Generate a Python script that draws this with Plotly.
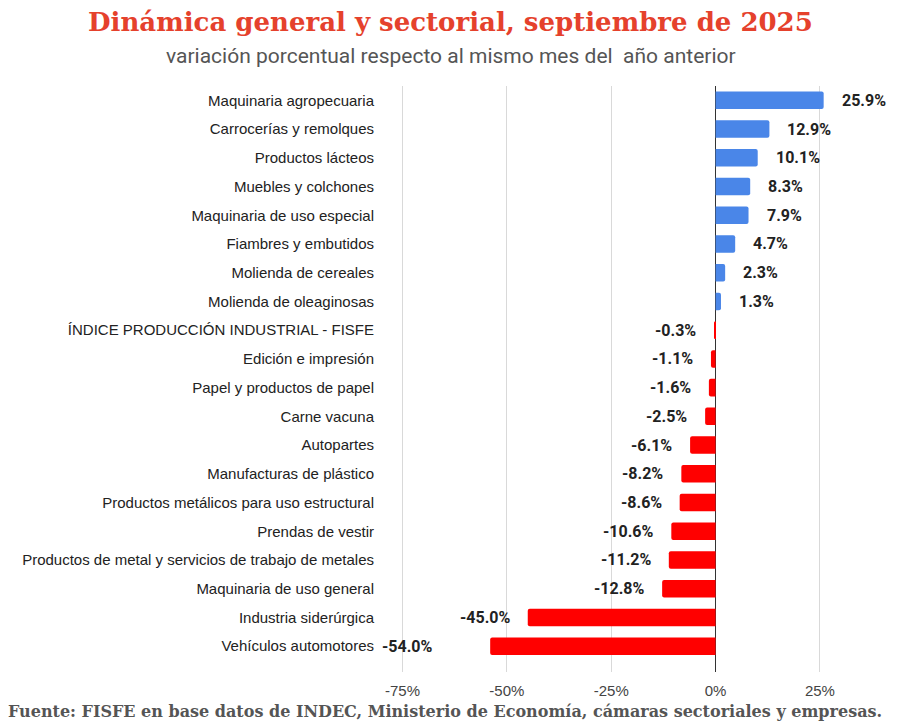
import plotly.graph_objects as go

categories = [
    "Maquinaria agropecuaria",
    "Carrocerías y remolques",
    "Productos lácteos",
    "Muebles y colchones",
    "Maquinaria de uso especial",
    "Fiambres y embutidos",
    "Molienda de cereales",
    "Molienda de oleaginosas",
    "ÍNDICE PRODUCCIÓN INDUSTRIAL - FISFE",
    "Edición e impresión",
    "Papel y productos de papel",
    "Carne vacuna",
    "Autopartes",
    "Manufacturas de plástico",
    "Productos metálicos para uso estructural",
    "Prendas de vestir",
    "Productos de metal y servicios de trabajo de metales",
    "Maquinaria de uso general",
    "Industria siderúrgica",
    "Vehículos automotores",
]
values = [25.9, 12.9, 10.1, 8.3, 7.9, 4.7, 2.3, 1.3, -0.3, -1.1, -1.6, -2.5,
          -6.1, -8.2, -8.6, -10.6, -11.2, -12.8, -45.0, -54.0]
tick_vals = [-75, -50, -25, 0, 25]
tick_text = ["-75%", "-50%", "-25%", "0%", "25%"]

title_text = "Dinámica general y sectorial, septiembre de 2025"
subtitle_text = "variación porcentual respecto al mismo mes del  año anterior"
source_text = "Fuente: FISFE en base datos de INDEC, Ministerio de Economía, cámaras sectoriales y empresas."

BLUE = "#4a86e8"
RED = "#ff0000"

# page offset of the plot div (default body margin)
OFF = 8
W, H = 900 - OFF, 728 - OFF
# targets in screen pixels
S_LEFT, S_RIGHT, S_TOP, S_BOTTOM = 380, 880, 86, 672.5
M_L = S_LEFT - OFF
M_R = W - (S_RIGHT - OFF)
M_T = S_TOP - OFF
M_B = H - (S_BOTTOM - OFF)
plot_w = W - M_L - M_R
plot_h = H - M_T - M_B

def py(sy):
    return (H - M_B - (sy - OFF)) / plot_h

def px(sx):
    return ((sx - OFF) - M_L) / plot_w

colors = [BLUE if v >= 0 else RED for v in values]

fig = go.Figure(go.Bar(
    x=values, y=categories, orientation="h",
    marker=dict(color=colors, line=dict(width=0), cornerradius=2),
    hoverinfo="skip",
))

label_font = dict(family="Roboto", size=16, color="#222222", weight="bold")
annotations = []
vmin = min(values)
for c, v in zip(categories, values):
    txt = f"{v:.1f}%"
    if v == vmin:
        annotations.append(dict(x=0, xref="paper", y=c, yref="y", text=txt,
                                showarrow=False, xanchor="left", yanchor="middle",
                                font=label_font))
    else:
        annotations.append(dict(x=v, y=c, xref="x", yref="y", text=txt, showarrow=False,
                                xanchor="left" if v >= 0 else "right",
                                xshift=16 if v >= 0 else -16, yanchor="middle",
                                font=label_font))

annotations.append(dict(x=px(450), xref="paper", xanchor="center",
                        y=py(22), yref="paper", yanchor="middle",
                        text=f"<b>{title_text}</b>", showarrow=False,
                        font=dict(family="DejaVu Serif", size=26, color="#e5412c")))
annotations.append(dict(x=px(451), xref="paper", xanchor="center",
                        y=py(56), yref="paper", yanchor="middle",
                        text=subtitle_text, showarrow=False,
                        font=dict(family="Roboto", size=21, color="#555555")))
annotations.append(dict(x=px(445), xref="paper", xanchor="center",
                        y=py(712), yref="paper", yanchor="middle",
                        text=source_text, showarrow=False,
                        font=dict(family="DejaVu Serif", size=16, color="#555555", weight="bold")))

fig.update_layout(
    width=W, height=H,
    margin=dict(l=M_L, r=M_R, t=M_T, b=M_B, pad=0),
    paper_bgcolor="white", plot_bgcolor="white",
    bargap=0.39,
    showlegend=False,
    annotations=annotations,
    xaxis=dict(range=[-80.4, 39.4], tickvals=tick_vals, ticktext=tick_text,
               showgrid=True, gridcolor="#d9d9d9", gridwidth=1,
               zeroline=True, zerolinecolor="#333333", zerolinewidth=1,
               showline=False, ticks="", ticklabelstandoff=8,
               tickfont=dict(family="Liberation Sans", size=15, color="#444444")),
    yaxis=dict(type="category", range=[19.9, -0.5], showgrid=False, zeroline=False,
               showline=False, ticks="", ticklabelstandoff=5,
               tickfont=dict(family="Liberation Sans", size=15, color="#222222")),
)

fig.write_html("out.html")
